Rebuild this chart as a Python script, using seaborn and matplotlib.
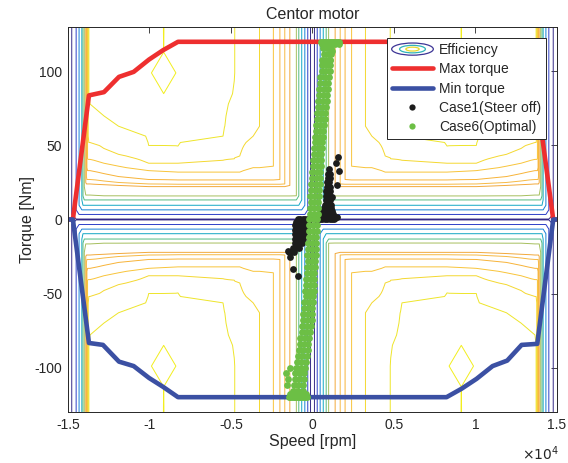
import numpy as np
import matplotlib
matplotlib.use('Agg')
import matplotlib.pyplot as plt
import seaborn as sns
from matplotlib.lines import Line2D
from matplotlib.patches import Ellipse
from matplotlib.legend_handler import HandlerBase

# ---- efficiency map (one quadrant, mirrored in speed and torque) ----
levels = [50, 60, 70, 75, 80, 82, 84, 85, 86, 87, 88, 89, 90]
level_colors = ['#352a87', '#2d3fc8', '#1481d6', '#12a7c4', '#52bb80', '#a6bf5e',
                '#f2a93b', '#f6b944', '#f7b338', '#f8c43a', '#f4d830', '#eee52a', '#f2ee1e']
eff_floor = 40
eff_cap = 89.5
eff_peak = 91

# speed at which each vertical contour sits (|speed|, rpm)
a_speed = [0, 120, 290, 470, 660, 840, 990, 1390, 1700, 2000, 2400, 3250, 4770, 5400,
           13650, 13720, 13760, 13800, 13840, 13870, 13910, 14000, 14080, 14150, 14320,
           14500, 14770, 15000]
a_eff = [40, 50, 60, 70, 75, 80, 82, 84, 85, 86, 87, 88, 89, 89.5,
         89.5, 89, 88, 87, 86, 85, 84, 82, 80, 75, 70, 60, 50, 40]

# torque at which each horizontal contour (levels[0..11]) sits, per speed column
profile_speed = [0, 3640, 4460, 4800, 5490, 8250, 10050, 11900, 12800, 13650, 15000]
cross_low = [0.3, 3.4, 6.5, 9.6, 13.2, 15.9, 22.2, 23.8, 26.7, 35, 56.3, 100]
cross_4460 = [0.3, 3.4, 6.5, 9.6, 13.2, 15.9, 22.2, 23.8, 26.7, 32, 42.9, 95]
cross_4800 = [0.3, 3.4, 6.5, 9.6, 13.2, 15.9, 22.2, 23.8, 26.7, 32, 41, 86.7]
cross_5490 = [0.3, 3.4, 6.5, 9.6, 13.2, 15.9, 22.2, 23.8, 26.7, 32, 40, 56.3]
cross_8250 = [0.3, 3.4, 6.5, 9.6, 13.2, 15.9, 22.2, 23.8, 26.7, 32, 38, 49.6]
cross_10050 = [0.3, 3.4, 6.5, 9.6, 13.2, 15.9, 22.2, 24, 27, 33, 38, 50]
cross_11900 = [0.3, 3.4, 6.5, 9.6, 13.2, 16, 23, 25, 29, 36, 44, 63]
cross_12800 = [0.3, 3.4, 6.5, 9.6, 13.2, 16, 23.5, 26, 31, 38, 48, 70]
cross_13650 = [0.3, 3.4, 6.5, 9.6, 13.2, 16.5, 24, 27, 33, 40.6, 52, 78]
profiles = [cross_low, cross_low, cross_4460, cross_4800, cross_5490, cross_8250,
            cross_10050, cross_11900, cross_12800, cross_13650, cross_13650]

# small peak island
peak_speed = [8380, 9130, 9880]
peak_torque = [85, 99, 113, 126]

# ---- torque envelope ----
max_speed = [-15000, -14700, -13714, -12793, -11872, -10970, -10030, -9171, -8250,
             8250, 9171, 10030, 10970, 11872, 12793, 13750, 14770, 15000]
max_torque = [0, 0, 83.8, 86, 96.3, 99.7, 108, 114.3, 120,
              120, 114.3, 108, 99.7, 96.3, 86, 84, 0, 0]
min_speed = [-15000, -14700, -13714, -12855, -11872, -10970, -10030, -9171, -8250,
             8226, 9147, 10068, 11050, 11947, 12830, 13790, 14770, 15000]
min_torque = [0, 0, -83.4, -84.7, -96, -99, -107, -113, -120,
              -120, -114.3, -107.6, -99, -95.3, -84.7, -84, 0, 0]

# ---- operating points ----
case1_speed = [300, 450, 600, 750, 900, 1050, 1200, 1300,
               350, 500, 650, 800, 950, 1100, 1250,
               550, 700, 850, 1000, 1150, 1250,
               600, 750, 900, 1050, 1200,
               700, 850, 1000, 1150,
               750, 900, 1050, 1150,
               800, 950, 1100,
               850, 1000, 1100,
               850, 950, 1050,
               900, 1000, 1100,
               900, 1000,
               950, 1050,
               950, 1050,
               1000,
               1570, 1470, 1630, 1530, 1200, 1500, 1400,
               -900, -750, -600, -450, -300, -150,
               -1000, -850, -700, -550, -400, -250,
               -1050, -900, -750, -600, -450, -300,
               -1100, -950, -800, -650, -500, -350,
               -1100, -950, -800, -650, -500,
               -1050, -900, -750, -600,
               -1100, -950, -800, -650,
               -1200, -1000, -850,
               -1450, -1300, -1150,
               -1350,
               -1190, -880, -1500]
case1_torque = [0, 0, 0, 0, 0, 0, 0, 0,
                2, 2, 2, 2, 2, 2, 2,
                4, 4, 4, 4, 4, 4,
                6, 6, 6, 6, 6,
                8, 8, 8, 8,
                10, 10, 10, 10,
                13, 13, 13,
                16, 16, 16,
                19, 19, 19,
                22, 22, 22,
                25, 25,
                28, 28,
                31, 31,
                34,
                42, 38, 33, 23, 15, 2, 1,
                0, 0, 0, 0, 0, 0,
                -2, -2, -2, -2, -2, -2,
                -4, -4, -4, -4, -4, -4,
                -7, -7, -7, -7, -7, -7,
                -10, -10, -10, -10, -10,
                -13, -13, -13, -13,
                -16, -16, -16, -16,
                -19, -19, -19,
                -22, -22, -22,
                -25,
                -33.5, -38, -21]

case6_speed = [550, 650, 750, 850, 950, 1050, 1150, 1250, 1350, 1450, 1550, 1650,
               600, 800, 1000, 1200, 1400, 1600,
               640, 900, 1150, 680, 940, 1120, 580, 820, 1100, 600, 880, 1060,
               560, 780, 1050, 480, 760, 1000, 470, 740, 950, 420, 690, 940,
               400, 660, 880, 340, 620, 860, 330, 580, 800, 260, 550, 790,
               270, 520, 740, 200, 470, 720, 200, 450, 660, 130, 410, 660,
               150, 390, 600, 80, 360, 600, 90, 330, 550, 20, 300, 550,
               30, 280, 500, -30, 250, 490, -20, 230, 450, -80, 190, 440,
               -70, 170, 390, -130, 140, 380, -120, 120, 340, -170, 100, 340,
               -150, 90, 310, -200, 70, 300, -190, 50, 270, -240, 30, 270,
               -220, 20, 230, -280, 0, 230, -260, -20, 200, -320, -40, 190,
               -300, -60, 160, -350, -70, 150, -330, -90, 120, -390, -110, 120,
               -380, -130, 90, -430, -150, 80, -420, -170, 50, -490, -210, 30,
               -500, -250, 0, -560, -280, -20, -570, -320, -60, -640, -350, -90,
               -660, -400, -140, -740, -460, -190, -780, -510, -250, -850, -570, -300,
               -880, -620, -360, -960, -680, -410, -1000, -720, -460, -1080, -770, -500,
               -1100, -810, -550, -1150, -860, -580, -1180, -880, -600,
               -1450, -1350, -1250, -1150, -1050, -950, -850, -750, -650, -550, -450, -350,
               -1400, -1200, -1000, -800, -600, -400,
               -1600, -1500, -1550, -1400, 1200, 1100]
case6_torque = [120, 120, 120, 120, 120, 120, 120, 120, 120, 120, 120, 120,
                118.5, 118.5, 118.5, 118.5, 118.5, 118.5,
                116, 116, 116, 112, 112, 112, 108, 108, 108, 104, 104, 104,
                100, 100, 100, 96, 96, 96, 92, 92, 92, 88, 88, 88,
                84, 84, 84, 80, 80, 80, 76, 76, 76, 72, 72, 72,
                68, 68, 68, 64, 64, 64, 60, 60, 60, 56, 56, 56,
                52, 52, 52, 48, 48, 48, 44, 44, 44, 40, 40, 40,
                36, 36, 36, 32, 32, 32, 28, 28, 28, 24, 24, 24,
                20, 20, 20, 16, 16, 16, 12, 12, 12, 8, 8, 8,
                4, 4, 4, 0, 0, 0, -4, -4, -4, -8, -8, -8,
                -12, -12, -12, -16, -16, -16, -20, -20, -20, -24, -24, -24,
                -28, -28, -28, -32, -32, -32, -36, -36, -36, -40, -40, -40,
                -44, -44, -44, -48, -48, -48, -52, -52, -52, -56, -56, -56,
                -60, -60, -60, -64, -64, -64, -68, -68, -68, -72, -72, -72,
                -76, -76, -76, -80, -80, -80, -84, -84, -84, -88, -88, -88,
                -92, -92, -92, -96, -96, -96, -100, -100, -100, -104, -104, -104,
                -108, -108, -108, -112, -112, -112, -116, -116, -116,
                -120, -120, -120, -120, -120, -120, -120, -120, -120, -120, -120, -120,
                -118, -118, -118, -118, -118, -118,
                -104, -108, -112, -100, 114, 108]

xtick_vals = [-15000, -10000, -5000, 0, 5000, 10000, 15000]
xtick_labels = ['-1.5', '-1', '-0.5', '0', '0.5', '1', '1.5']
ytick_vals = [-100, -50, 0, 50, 100]
ytick_labels = ['-100', '-50', '0', '50', '100']

# ---- build the efficiency grid ----
s_grid = sorted(set(a_speed + profile_speed + peak_speed))
# rows: every crossing below 80 Nm, then only the island rows above
t_grid = sorted(set([0, 130] + peak_torque + [v for p in profiles for v in p if v <= 80]))
zq = np.empty((len(t_grid), len(s_grid)))
for j, s in enumerate(s_grid):
    a = np.interp(s, a_speed, a_eff)
    cross = [np.interp(s, profile_speed, [p[k] for p in profiles]) for k in range(12)]
    b = np.interp(t_grid, [0] + cross + [max(130, cross[-1] + 1)],
                  [eff_floor] + levels[:12] + [eff_cap])
    zq[:, j] = np.minimum(a, b)

si = {s: j for j, s in enumerate(s_grid)}
ti = {t: i for i, t in enumerate(t_grid)}
zq[ti[99], si[9130]] = eff_peak
for s, t in [(8380, 99), (9880, 99), (9130, 85), (9130, 113)]:
    zq[ti[t], si[s]] = 89.9999
zq[ti[126], si[9130]] = 90.01
zq[ti[130], si[9130]] = 90.01

s_arr = np.array(s_grid, dtype=float)
t_arr = np.array(t_grid, dtype=float)
s_full = np.concatenate([-s_arr[:0:-1], s_arr])
t_full = np.concatenate([-t_arr[:0:-1], t_arr])
z_half = np.concatenate([zq[:, :0:-1], zq], axis=1)
z_full = np.concatenate([z_half[:0:-1, :], z_half], axis=0)

# ---- plot ----
sns.set_theme(style='white')
plt.rcParams['font.family'] = ['Liberation Sans', 'DejaVu Sans']

fig, ax = plt.subplots(figsize=(5.68, 4.63), dpi=100)
fig.subplots_adjust(left=0.1197, right=0.9806, top=0.9417, bottom=0.1102)

ax.contour(s_full, t_full, z_full, levels=levels, colors=level_colors, linewidths=0.7)

sns.lineplot(x=max_speed, y=max_torque, color='#ee2f2f', lw=3.3, sort=False,
             estimator=None, ax=ax)
sns.lineplot(x=min_speed, y=min_torque, color='#3b50a3', lw=3.3, sort=False,
             estimator=None, ax=ax)
sns.scatterplot(x=case1_speed, y=case1_torque, color='#1c1c1c', s=24, linewidth=0,
                ax=ax, zorder=5)
sns.scatterplot(x=case6_speed, y=case6_torque, color='#6cbf45', s=24, linewidth=0,
                ax=ax, zorder=6)

ax.set_xlim(-15000, 15000)
ax.set_ylim(-130, 130)
ax.set_xticks(xtick_vals)
ax.set_xticklabels(xtick_labels)
ax.set_yticks(ytick_vals)
ax.set_yticklabels(ytick_labels)
ax.tick_params(direction='in', length=4, width=0.6, top=True, right=True,
               labelsize=10, colors='#262626', pad=4)
for sp in ax.spines.values():
    sp.set_color('#262626')
    sp.set_linewidth(0.7)

ax.set_xlabel('Speed [rpm]', fontsize=11.5, color='#262626', labelpad=2)
ax.set_ylabel('Torque [Nm]', fontsize=11.5, color='#262626', labelpad=0)
ax.set_title('Centor motor', fontsize=11.5, color='#262626', pad=6)
ax.text(0.928, -0.108, r'$\times10^{4}$', transform=ax.transAxes, fontsize=10,
        color='#262626', va='center', ha='left')


class ContourIcon:
    pass


class HandlerContour(HandlerBase):
    def create_artists(self, legend, orig_handle, xdescent, ydescent, width, height,
                       fontsize, trans):
        cx = width / 2 - xdescent
        cy = height / 2 - ydescent
        arts = []
        for frac, col in [(1.0, '#3d3596'), (0.62, '#2fb3b8'), (0.32, '#e6d82c')]:
            e = Ellipse((cx, cy), width * frac, height * 1.25 * frac, fill=False,
                        edgecolor=col, lw=0.9, transform=trans)
            arts.append(e)
        return arts


handles = [ContourIcon(),
           Line2D([], [], color='#ee2f2f', lw=3.3),
           Line2D([], [], color='#3b50a3', lw=3.3),
           Line2D([], [], ls='none', marker='o', ms=4.5, mew=0, color='#1c1c1c'),
           Line2D([], [], ls='none', marker='o', ms=4.5, mew=0, color='#6cbf45')]
labels = ['Efficiency', 'Max torque', 'Min torque', 'Case1(Steer off)', 'Case6(Optimal)']
leg = ax.legend(handles, labels, handler_map={ContourIcon: HandlerContour()},
                loc='upper right', fontsize=10, frameon=True, fancybox=False,
                framealpha=1, edgecolor='#262626', borderaxespad=0.8, borderpad=0.35,
                handlelength=3.0, handletextpad=0.4, labelspacing=0.38)
leg.get_frame().set_linewidth(0.7)
leg.set_zorder(10)

fig.savefig('out.png', dpi=100)
